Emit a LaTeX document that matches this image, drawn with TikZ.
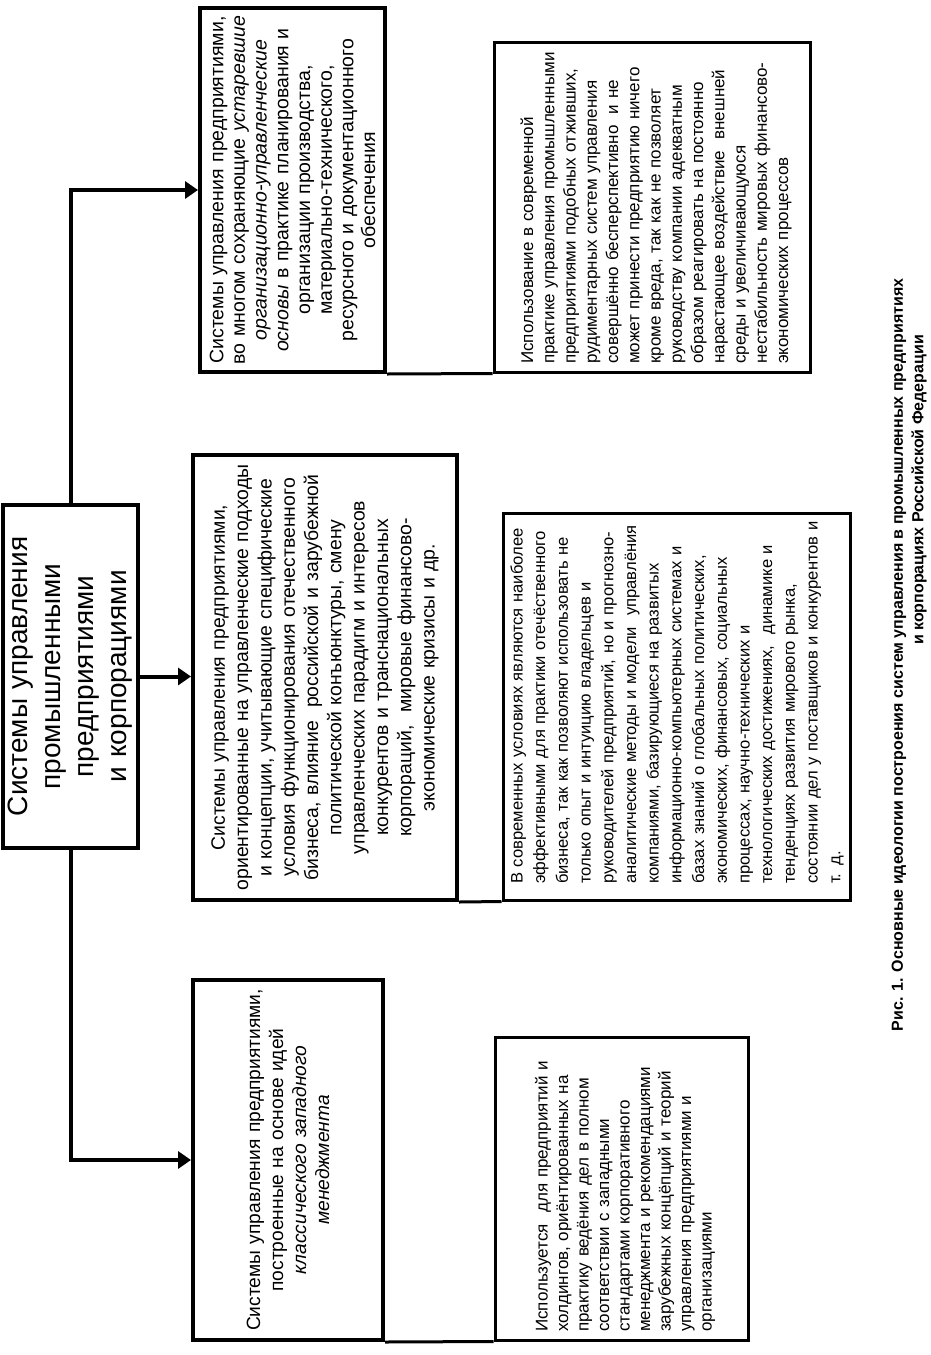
\documentclass[tikz,border=0pt]{standalone}
\usepackage{fontspec}
\setmainfont{Liberation Sans}
\usetikzlibrary{arrows.meta}
\begin{document}
\begin{tikzpicture}[x=1pt,y=-1pt,
  thickbox/.style={draw, line width=4pt, inner sep=0pt, fill=white},
  thinbox/.style={draw, line width=3pt, inner sep=0pt},
  conn/.style={line width=4pt, -{Triangle[length=13pt,width=17pt]}},
  link/.style={line width=3pt},
  ctext/.style={rotate=90, inner sep=0pt, text width=#1, align=center},
  ltext/.style={rotate=90, inner sep=0pt, text width=#1, align=left, anchor=west},
  captext/.style={rotate=90, inner sep=0pt, font=\bfseries\fontsize{16}{21}\selectfont}]
\useasboundingbox[fill=white] (0,0) rectangle (930,1355);

% boxes
\node[thickbox, minimum width=135pt, minimum height=343pt] (M) at (70.5,676.5) {};
\node[thickbox, minimum width=185pt, minimum height=364pt] (T3) at (292.5,190) {};
\node[thinbox, minimum width=316pt, minimum height=330pt] (R3) at (652,207) {};
\node[thickbox, minimum width=264pt, minimum height=445pt] (T2) at (325,677.5) {};
\node[thinbox, minimum width=347pt, minimum height=387pt] (R2) at (676.5,706.5) {};
\node[thickbox, minimum width=190pt, minimum height=360pt] (T1) at (288,1160) {};
\node[thinbox, minimum width=253pt, minimum height=303pt] (R1) at (621.5,1188.5) {};

% links along bottoms
\draw[link] (T3.south east) -- (R3.south west);
\draw[link] (T2.south east) -- (R2.south west);
\draw[link] (T1.south east) -- (R1.south west);

% connectors
\draw[conn] (M.north) |- (T3.west);
\draw[conn] (M.east) -- (M.east -| T2.west);
\draw[conn] (M.south) |- (T1.west);

% main text
\node[ctext=330pt, font=\fontsize{28}{33}\selectfont] (Mt) at (M.center)
 {Системы управления\\промышленными\\предприятиями\\и корпорациями};

% top group
\node[ctext=355pt, font=\fontsize{19.5}{21.7}\selectfont] (T3t) at (T3.center)
 {Системы управления предприятиями,\\
  во многом сохраняющие \textit{устаревшие}\\
  \textit{организационно-управленческие}\\
  \textit{основы} в практике планирования и\\
  организации производства,\\
  материально-технического,\\
  ресурсного и документационного\\
  обеспечения};

\node[ltext=400pt, font=\fontsize{17}{21.25}\selectfont] (R3t) at (656,364)
 {Использование в современной\\
  практике управления промышленными\\
  предприятиями подобных отживших,\\
  рудиментарных систем управления\\
  совершённо бесперспективно \ и не\\
  может принести предприятию ничего\\
  кроме вреда, так как не позволяет\\
  руководству компании адекватным\\
  образом реагировать на постоянно\\
  нарастающее воздействие \ внешней\\
  среды и увеличивающуюся\\
  нестабильность мировых финансово-\\
  экономических процессов};

% middle group
\node[ctext=440pt, font=\fontsize{19.4}{23.3}\selectfont] (T2t) at (T2.center)
 {Системы управления предприятиями,\\
  ориентированные на управленческие подходы\\
  и концепции, учитывающие специфические\\
  условия функционирования отечественного\\
  бизнеса, влияние \ российской и зарубежной\\
  политической конъюнктуры, смену\\
  управленческих парадигм и интересов\\
  конкурентов и транснациональных\\
  корпораций, \ мировые финансово-\\
  экономические кризисы и др.};

\node[ltext=400pt, font=\fontsize{16.6}{22.7}\selectfont] (R2t) at (677,884)
 {В современных условиях являются наиболее\\
  эффективными для практики отечёственного\\
  бизнеса, так как позволяют использовать не\\
  только опыт и интуицию владельцев и\\
  руководителей предприятий, но и прогнозно-\\
  аналитические методы и модели \ управлёния\\
  компаниями, базирующиеся на развитых\\
  информационно-компьютерных системах и\\
  базах знаний о глобальных политических,\\
  экономических, финансовых, социальных\\
  процессах, научно-технических и\\
  технологических достижениях, \ динамике и\\
  тенденциях развития мирового рынка,\\
  состоянии дел у поставщиков и конкурентов и\\
  т. д.};

% bottom group
\node[ctext=355pt, font=\fontsize{19.2}{23}\selectfont] (T1t) at (T1.center)
 {Системы управления предприятиями,\\
  построенные на основе идей\\
  \textit{классического западного}\\
  \textit{менеджмента}};

\node[ltext=400pt, font=\fontsize{17}{20.5}\selectfont] (R1t) at (625,1332)
 {Используется \ для предприятий и\\
  холдингов, ориёнтированных на\\
  практику ведёния дел в полном\\
  соответствии с западными\\
  стандартами корпоративного\\
  менеджмента и рекомендациями\\
  зарубежных концёпций и теорий\\
  управления предприятиями и\\
  организациями};

% caption
\node[captext] (cap1) at (899,655)
 {Рис. 1. Основные идеологии построения систем управления в промышленных предприятиях};
\node[captext] (cap2) at (919,490)
 {и корпорациях Российской Федерации};
\end{tikzpicture}
\end{document}
